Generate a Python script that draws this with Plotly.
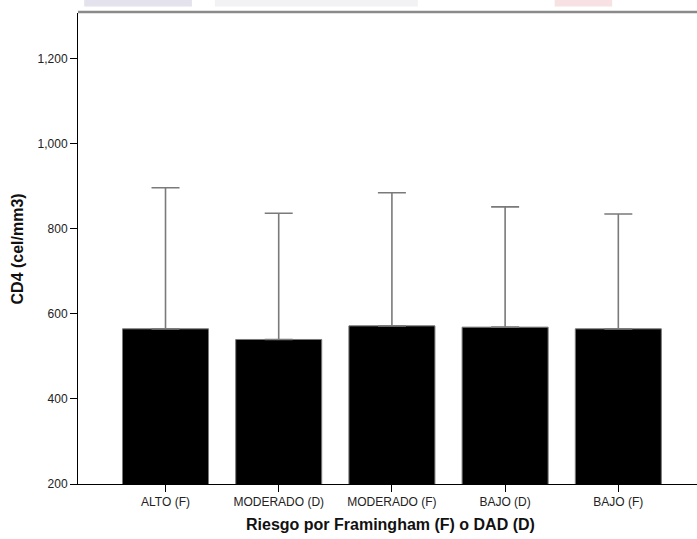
import plotly.graph_objects as go

categories = ["ALTO (F)", "MODERADO (D)", "MODERADO (F)", "BAJO (D)", "BAJO (F)"]
means = [565, 540, 572, 569, 565]
upper_limits = [897, 837, 885, 852, 835]
y_ticks = [200, 400, 600, 800, 1000, 1200]

err_plus = [u - m for u, m in zip(upper_limits, means)]
err_minus = [0 for _ in means]

fig = go.Figure()
fig.add_trace(go.Bar(
    x=categories,
    y=means,
    width=0.76,
    marker=dict(color="#000000", line=dict(color="#7a7a7a", width=1)),
    error_y=dict(type="data", symmetric=False, array=err_plus, arrayminus=err_minus,
                 color="#7a7a7a", thickness=1.6, width=14),
    showlegend=False,
    hoverinfo="skip",
))

font_family = "Liberation Sans, Arial, sans-serif"

fig.update_layout(
    width=697, height=539,
    margin=dict(l=78, r=0, t=13, b=55, autoexpand=False),
    paper_bgcolor="white", plot_bgcolor="white",
    font=dict(family=font_family, color="#222222"),
    xaxis=dict(
        type="category",
        range=[-0.773, 4.695],
        automargin=False,
        showline=True, linecolor="#000000", linewidth=1,
        ticks="outside", ticklen=7, tickcolor="#000000", tickwidth=1,
        tickfont=dict(size=12, color="#222222"),
        showgrid=False, zeroline=False,
    ),
    yaxis=dict(
        range=[200, 1308],
        automargin=False,
        tickvals=y_ticks,
        tickformat=",",
        showline=True, linecolor="#000000", linewidth=1,
        ticks="outside", ticklen=7, tickcolor="#000000", tickwidth=1,
        tickfont=dict(size=12, color="#222222"),
        showgrid=False, zeroline=False,
    ),
    annotations=[
        dict(text="<b>Riesgo por Framingham (F) o DAD (D)</b>", xref="paper", yref="paper",
             x=0.505, y=-0.087, xanchor="center", yanchor="middle", showarrow=False,
             font=dict(size=16, color="#111111")),
        dict(text="<b>CD4 (cel/mm3)</b>", xref="paper", yref="paper",
             x=-0.097, y=0.5, xanchor="center", yanchor="middle", textangle=-90,
             showarrow=False, font=dict(size=16, color="#111111")),
    ],
    shapes=[
        dict(type="line", xref="paper", yref="paper", x0=0, x1=1.02, y0=1.002, y1=1.002,
             line=dict(color="#8a8a8a", width=2.5)),
        dict(type="rect", xref="paper", yref="paper", x0=0.010, x1=0.184, y0=1.014, y1=1.03,
             fillcolor="#e4e2ec", line=dict(width=0), layer="above"),
        dict(type="rect", xref="paper", yref="paper", x0=0.221, x1=0.549, y0=1.014, y1=1.03,
             fillcolor="#f2f2f5", line=dict(width=0), layer="above"),
        dict(type="rect", xref="paper", yref="paper", x0=0.770, x1=0.863, y0=1.014, y1=1.03,
             fillcolor="#f8e1e2", line=dict(width=0), layer="above"),
    ],
)

fig.write_html(
    "out.html",
    config={"displayModeBar": False},
    post_script="document.body.style.margin='0px';document.body.style.overflow='hidden';",
)
